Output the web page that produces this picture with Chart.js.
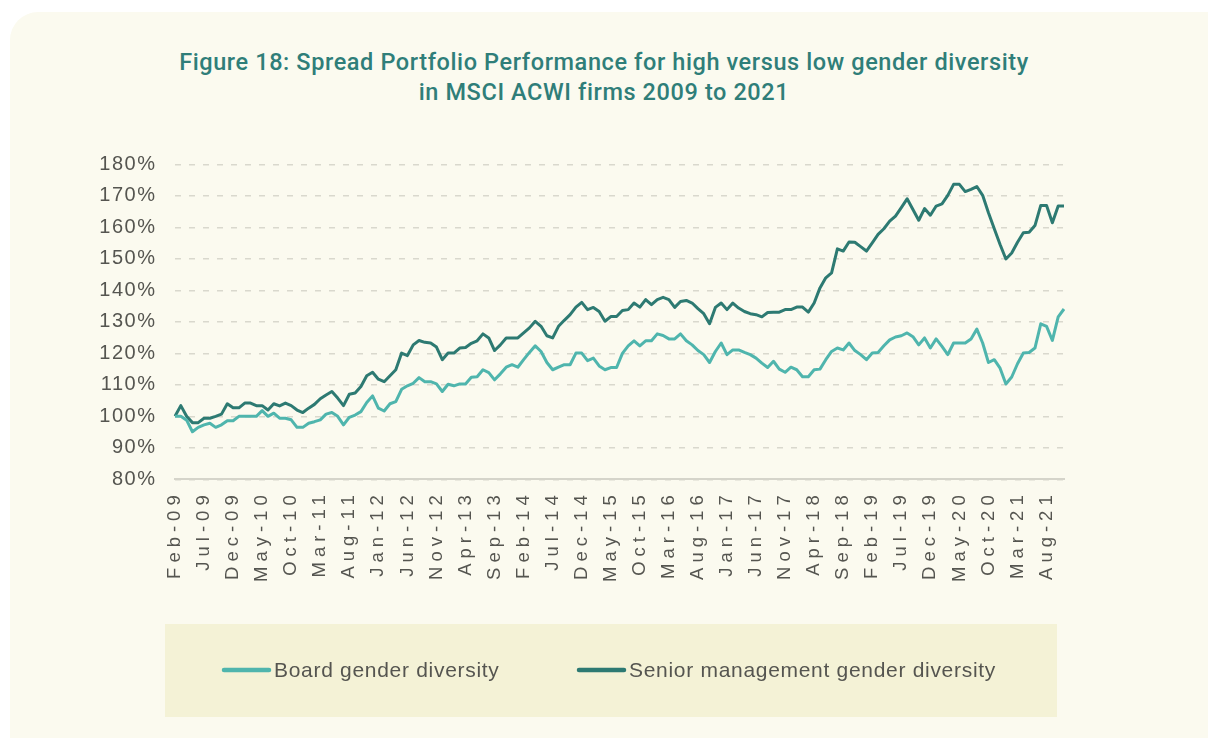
<!DOCTYPE html>
<html>
<head>
<meta charset="utf-8">
<script src="https://cdn.jsdelivr.net/npm/chart.js@4"></script>
<style>
  html, body { margin: 0; padding: 0; background: #ffffff; width: 1208px; height: 738px; overflow: hidden; }
  #card { position: absolute; left: 10px; top: 12px; width: 1230px; height: 770px; border-radius: 28px; background: #fbfaef; }
  #title { position: absolute; left: 0; top: 47px; width: 1208px; text-align: center; font-family: Roboto, "Liberation Sans", sans-serif; font-weight: 500; font-size: 23.5px; letter-spacing: 0.6px; line-height: 30px; color: #2f7e79; }
  #wrap { position: absolute; left: 0; top: 0; width: 1208px; height: 738px; }
</style>
</head>
<body>
<div id="card"></div>
<div id="title">Figure 18: Spread Portfolio Performance for high versus low gender diversity<br>in MSCI ACWI firms 2009 to 2021</div>
<div id="wrap"><canvas id="c" width="1208" height="738"></canvas></div>
<script>
const categories = [
  'Feb-09','Mar-09','Apr-09','May-09','Jun-09','Jul-09','Aug-09','Sep-09','Oct-09','Nov-09','Dec-09',
  'Jan-10','Feb-10','Mar-10','Apr-10','May-10','Jun-10','Jul-10','Aug-10','Sep-10','Oct-10','Nov-10','Dec-10',
  'Jan-11','Feb-11','Mar-11','Apr-11','May-11','Jun-11','Jul-11','Aug-11','Sep-11','Oct-11','Nov-11','Dec-11',
  'Jan-12','Feb-12','Mar-12','Apr-12','May-12','Jun-12','Jul-12','Aug-12','Sep-12','Oct-12','Nov-12','Dec-12',
  'Jan-13','Feb-13','Mar-13','Apr-13','May-13','Jun-13','Jul-13','Aug-13','Sep-13','Oct-13','Nov-13','Dec-13',
  'Jan-14','Feb-14','Mar-14','Apr-14','May-14','Jun-14','Jul-14','Aug-14','Sep-14','Oct-14','Nov-14','Dec-14',
  'Jan-15','Feb-15','Mar-15','Apr-15','May-15','Jun-15','Jul-15','Aug-15','Sep-15','Oct-15','Nov-15','Dec-15',
  'Jan-16','Feb-16','Mar-16','Apr-16','May-16','Jun-16','Jul-16','Aug-16','Sep-16','Oct-16','Nov-16','Dec-16',
  'Jan-17','Feb-17','Mar-17','Apr-17','May-17','Jun-17','Jul-17','Aug-17','Sep-17','Oct-17','Nov-17','Dec-17',
  'Jan-18','Feb-18','Mar-18','Apr-18','May-18','Jun-18','Jul-18','Aug-18','Sep-18','Oct-18','Nov-18','Dec-18',
  'Jan-19','Feb-19','Mar-19','Apr-19','May-19','Jun-19','Jul-19','Aug-19','Sep-19','Oct-19','Nov-19','Dec-19',
  'Jan-20','Feb-20','Mar-20','Apr-20','May-20','Jun-20','Jul-20','Aug-20','Sep-20','Oct-20','Nov-20','Dec-20',
  'Jan-21','Feb-21','Mar-21','Apr-21','May-21','Jun-21','Jul-21','Aug-21','Sep-21','Oct-21','Nov-21'
];

const tickLabels = ['Feb-09','Jul-09','Dec-09','May-10','Oct-10','Mar-11','Aug-11','Jan-12','Jun-12','Nov-12',
  'Apr-13','Sep-13','Feb-14','Jul-14','Dec-14','May-15','Oct-15','Mar-16','Aug-16','Jan-17','Jun-17','Nov-17',
  'Apr-18','Sep-18','Feb-19','Jul-19','Dec-19','May-20','Oct-20','Mar-21','Aug-21'];

const boardGender = [
  100,100,98.8,95.1,96.5,97.3,97.8,96.5,97.3,98.6,
  98.6,100,100,100,100,101.8,100,101,99.4,99.4,
  98.9,96.5,96.5,97.8,98.3,98.9,100.7,101.2,100,97.3,
  99.7,100.4,101.5,104.4,106.5,102.6,101.7,104,104.7,108.6,
  109.7,110.5,112.3,111,111,110.3,107.9,110.2,109.7,110.3,
  110.3,112.4,112.6,114.8,113.9,111.6,113.5,115.6,116.4,115.6,
  118,120.3,122.4,120.6,117.1,114.8,115.6,116.4,116.4,120.1,
  120.1,117.7,118.5,116,114.8,115.5,115.5,120,122.4,124,
  122.4,124,124,126.2,125.7,124.6,124.6,126.2,124,122.7,
  120.9,119.6,117.1,120.6,123.3,119.6,121.1,121.1,120.3,119.6,
  118.5,116.9,115.5,117.5,115,114,115.6,114.8,112.6,112.6,
  114.8,115,118,120.6,121.7,121.1,123.3,120.9,119.6,118,
  120.1,120.3,122.4,124.3,125.2,125.6,126.5,125.3,122.7,124.9,
  121.7,124.6,122.2,119.6,123.3,123.3,123.3,124.6,127.7,123.3,
  117.1,118,115.3,110.3,112.5,116.7,120.1,120.3,121.7,129.4,
  128.6,124.1,131.6,134.1
];

const seniorGender = [
  100,103.4,100,98,98,99.4,99.4,100,100.7,104,
  102.7,102.7,104.2,104.2,103.4,103.4,102,104,103.3,104.2,
  103.4,102,101.2,102.6,103.8,105.6,106.8,107.9,105.8,103.4,
  107,107.4,109.5,112.9,114,111.8,111,112.9,114.8,120.1,
  119.3,122.7,124.1,123.5,123.3,122,118,120.1,120.1,121.7,
  121.9,123.2,124,126.2,124.9,120.9,122.7,124.9,124.9,124.9,
  126.5,128.1,130.2,128.6,125.6,124.9,128.6,130.5,132.3,134.7,
  136.2,133.9,134.6,133.3,130.2,131.7,131.7,133.6,133.9,136,
  134.7,137.1,135.5,137.1,137.8,137.1,134.6,136.5,136.8,136,
  134.2,132.6,129.4,134.6,136,133.9,136,134.4,133.3,132.6,
  132.3,131.6,133,133.1,133.1,133.9,133.9,134.7,134.7,133.1,
  136,140.8,144,145.6,153.2,152.5,155.4,155.3,153.9,152.5,
  155.1,157.8,159.6,162,163.6,166.3,169.1,165.7,162.3,166,
  163.9,166.8,167.5,170.2,173.7,173.7,171.4,172.1,173,170.2,
  164.7,159.6,154.6,150,151.9,155.3,158.3,158.5,160.6,167,
  167,161.5,166.8,166.8
];

const seriesNames = ['Board gender diversity', 'Senior management gender diversity'];
const seriesColors = ['#4fb5ad', '#2d7a72'];

const stylePlugin = {
  id: 'boxLegend',
  beforeDraw(chart) {
    const ctx = chart.ctx;
    ctx.save();
    ctx.fillStyle = '#f4f2d6';
    ctx.fillRect(165, 624, 892, 93);
    ctx.restore();
    ctx.letterSpacing = '1.5px';   // y tick labels
  },
  afterDatasetsDraw(chart) {
    chart.ctx.letterSpacing = '5px'; // x tick labels (drawn on top layer)
  },
  afterDraw(chart) {
    const ctx = chart.ctx;
    ctx.letterSpacing = '0px';
    ctx.save();
    ctx.letterSpacing = '0.7px';
    ctx.font = '21px "Liberation Sans", Arial, sans-serif';
    ctx.textBaseline = 'middle';
    const starts = [222, 577];
    chart.data.datasets.forEach((ds, i) => {
      const x = starts[i], y = 670;
      ctx.strokeStyle = ds.borderColor;
      ctx.lineWidth = 4.5;
      ctx.lineCap = 'round';
      ctx.beginPath();
      ctx.moveTo(x + 2, y);
      ctx.lineTo(x + 47, y);
      ctx.stroke();
      ctx.fillStyle = '#555550';
      ctx.fillText(ds.label, x + 52, y + 1);
    });
    ctx.restore();
    ctx.letterSpacing = '0px';
  }
};

new Chart(document.getElementById('c'), {
  type: 'line',
  data: {
    labels: categories,
    datasets: [
      { label: seriesNames[0], data: boardGender, borderColor: seriesColors[0], backgroundColor: seriesColors[0], borderWidth: 3, pointRadius: 0, tension: 0, borderJoinStyle: 'round' },
      { label: seriesNames[1], data: seniorGender, borderColor: seriesColors[1], backgroundColor: seriesColors[1], borderWidth: 3, pointRadius: 0, tension: 0, borderJoinStyle: 'round' }
    ]
  },
  options: {
    responsive: false,
    animation: false,
    layout: { padding: { left: 0, top: 164.5, right: 144, bottom: 138.7 } },
    plugins: { legend: { display: false }, title: { display: false }, tooltip: { enabled: false } },
    scales: {
      x: {
        offset: false,
        grid: { display: false },
        border: { display: true, color: '#d5d4ca', width: 2 },
        afterFit(scale) { scale.height = 120; },
        ticks: {
          z: 1,
          autoSkip: false,
          maxRotation: 90,
          minRotation: 90,
          padding: 3,
          color: '#555550',
          font: { family: '"Liberation Sans", Arial, sans-serif', size: 18.5 },
          callback(value, index) {
            const l = categories[index];
            return tickLabels.includes(l) ? l : '';
          }
        }
      },
      y: {
        min: 80,
        max: 180,
        afterFit(scale) { scale.width = 175; },
        grid: { color: '#d9d8cd', lineWidth: 1.5, drawTicks: false },
        border: { display: false, dash: [6, 8] },
        ticks: {
          stepSize: 10,
          padding: 18.5,
          color: '#555550',
          font: { family: '"Liberation Sans", Arial, sans-serif', size: 20 },
          callback(v) { return v + '%'; }
        }
      }
    }
  },
  plugins: [stylePlugin]
});
</script>
</body>
</html>
